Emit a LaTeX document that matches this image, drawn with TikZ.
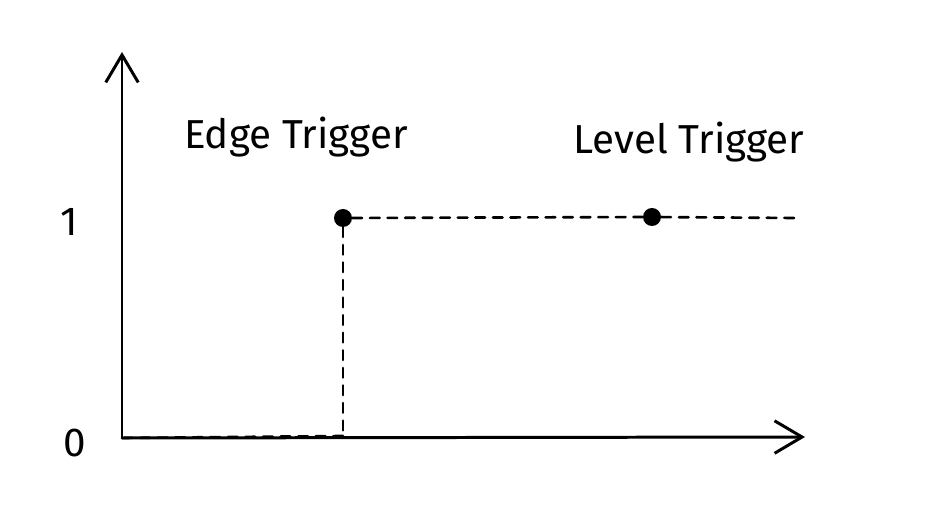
\documentclass[tikz,border=0pt]{standalone}
\usepackage{fontspec}
\setmainfont{Fira Sans}
\usetikzlibrary{arrows.meta}
\tikzset{
  plot/.style={x=0.02cm, y=-0.02cm, line cap=round, line join=round},
  axis/.style={line width=1.7pt, -{Straight Barb[length=5.5mm, width=6.5mm, line width=1.7pt]}},
  guide/.style={line width=1.5pt, dash pattern=on 5.5pt off 4.5pt},
  pt/.style={circle, fill, inner sep=0pt, minimum size=0.36cm},
  tlabel/.style={font=\fontsize{23}{27}\selectfont, inner sep=0pt},
}

\begin{document}
\begin{tikzpicture}[plot]
  \useasboundingbox (0,0) rectangle (927,509);
  % axes
  \coordinate (O) at (122,438);
  \coordinate (ytip) at (122,52);
  \coordinate (xtip) at (805,437);
  \draw[axis] (O) -- (ytip);
  \draw[axis] (O) -- (xtip);
  \node[tlabel] (one) at (69,222) {1};
  \node[tlabel] (zero) at (75,443) {0};
  % signal
  \node[pt] (edge) at (343,218) {};
  \node[pt] (level) at (652,217) {};
  \coordinate (foot) at (343,436);
  \coordinate (lend) at (795,218);
  \draw[guide] (foot) -- (O);
  \draw[guide] (edge) -- (foot);
  \draw[guide] (edge) -- (level) -- (lend);
  % labels
  \node[tlabel] (edgelbl) at (296,137) {Edge Trigger};
  \node[tlabel] (levellbl) at (689,142) {Level Trigger};
\end{tikzpicture}
\end{document}
